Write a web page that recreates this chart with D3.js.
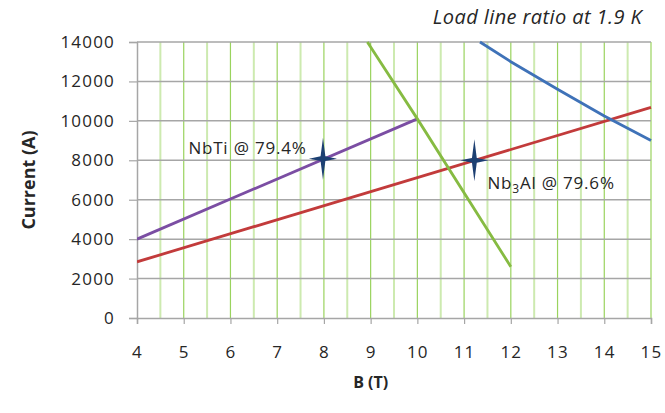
<!DOCTYPE html>
<html>
<head>
<meta charset="utf-8">
<script src="https://cdn.jsdelivr.net/npm/d3@7"></script>
<style>
  html, body { margin: 0; padding: 0; background: #fff; }
  svg { display: block; }
  text { font-family: "Open Sans", "Noto Sans", sans-serif; fill: #262626; }
</style>
</head>
<body>
<svg id="chart" width="665" height="413"></svg>
<script>
// Magnetic field (T) and current (A) for load lines and critical-current curves
const xTicks = [4, 5, 6, 7, 8, 9, 10, 11, 12, 13, 14, 15];
const yTicks = [0, 2000, 4000, 6000, 8000, 10000, 12000, 14000];

const nbtiLoadB = [4, 10];
const nbtiLoadI = [4000, 10100];

const nb3alLoadB = [4, 15];
const nb3alLoadI = [2850, 10680];

const nbtiCritB = [8.93, 10, 12];
const nbtiCritI = [14000, 10100, 2600];

const nb3alCritB = [11.34, 12, 13, 14, 15];
const nb3alCritI = [14000, 13000, 11600, 10250, 9000];

const markerB = [7.98, 11.22];
const markerI = [8080, 8000];

const labelText = ["NbTi @ 79.4%", "Nb3Al @ 79.6%"];

const svg = d3.select("#chart");
const x = d3.scaleLinear().domain([4, 15]).range([137, 651]);
const y = d3.scaleLinear().domain([0, 14000]).range([318, 42]);

// vertical gridlines every half tesla
const halfSteps = d3.range(4.5, 15.01, 0.5);
svg.append("g").selectAll("line").data(halfSteps).join("line")
  .attr("x1", d => x(d)).attr("x2", d => x(d))
  .attr("y1", y(14000)).attr("y2", y(0))
  .attr("stroke", d => Number.isInteger(d) ? "#9ad35e" : "#cdeab0")
  .attr("stroke-width", d => Number.isInteger(d) ? 1.2 : 2);

// horizontal gridlines
svg.append("g").selectAll("line").data(yTicks.filter(v => v > 0)).join("line")
  .attr("x1", x(4)).attr("x2", x(15))
  .attr("y1", d => y(d)).attr("y2", d => y(d))
  .attr("stroke", "#a6a6a6").attr("stroke-width", 1.5);

// axes
const xAxis = svg.append("g").attr("transform", `translate(0,${y(0)})`)
  .call(d3.axisBottom(x).tickValues(xTicks).tickSize(6).tickPadding(22).tickFormat(d3.format("d")));
const yAxis = svg.append("g").attr("transform", `translate(${x(4)},0)`)
  .call(d3.axisLeft(y).tickValues(yTicks).tickSize(8).tickPadding(15).tickFormat(d3.format("d")));
[xAxis, yAxis].forEach(g => {
  g.select(".domain").attr("stroke", "#a6a6a6").attr("stroke-width", 1.5);
  g.selectAll(".tick line").attr("stroke", "#a6a6a6").attr("stroke-width", 1.2);
  g.selectAll(".tick text").attr("font-family", "'Open Sans', sans-serif")
    .attr("font-size", 17).attr("letter-spacing", 1.2).attr("fill", "#262626");
});
// keep the right-aligned y labels flush despite the trailing letter spacing
yAxis.selectAll(".tick text").attr("dx", 1);

// series lines
svg.append("clipPath").attr("id", "plot")
  .append("rect").attr("x", x(4)).attr("y", y(14000) - 2)
  .attr("width", x(15) - x(4) + 2).attr("height", y(0) - y(14000) + 2);

const line = d3.line().x(d => x(d[0])).y(d => y(d[1]));
const series = [
  { B: nbtiLoadB, I: nbtiLoadI, color: "#7b4ea3" },
  { B: nb3alLoadB, I: nb3alLoadI, color: "#c23b3b" },
  { B: nbtiCritB, I: nbtiCritI, color: "#86bb42" },
  { B: nb3alCritB, I: nb3alCritI, color: "#3f72b8" }
];
svg.append("g").attr("clip-path", "url(#plot)")
  .selectAll("path").data(series).join("path")
  .attr("d", s => line(d3.zip(s.B, s.I)))
  .attr("fill", "none").attr("stroke", s => s.color)
  .attr("stroke-width", 2.8).attr("stroke-linejoin", "round");

// four-pointed star markers at the operating points
const star4 = {
  draw(ctx, size) {
    const v = 21, h = 14, w = 2.4;
    ctx.moveTo(0, -v);
    ctx.lineTo(w, -w);
    ctx.lineTo(h, 0);
    ctx.lineTo(w, w);
    ctx.lineTo(0, v);
    ctx.lineTo(-w, w);
    ctx.lineTo(-h, 0);
    ctx.lineTo(-w, -w);
    ctx.closePath();
  }
};
const defs = svg.append("defs");
defs.append("filter").attr("id", "soft").append("feGaussianBlur").attr("stdDeviation", 0.7);
svg.append("g").selectAll("path").data(d3.zip(markerB, markerI)).join("path")
  .attr("d", d3.symbol().type(star4))
  .attr("transform", d => `translate(${x(d[0])},${y(d[1])})`)
  .attr("fill", "#1f3f72").attr("filter", "url(#soft)");

// point labels
svg.append("text").attr("x", x(5.1)).attr("y", y(8000) - 6)
  .attr("font-size", 17).attr("letter-spacing", 0.8).attr("fill", "#404040")
  .text(labelText[0]);
const lab2 = svg.append("text").attr("x", x(11.5)).attr("y", y(8000) + 29)
  .attr("font-size", 17).attr("letter-spacing", 0.8).attr("fill", "#404040");
lab2.append("tspan").text("Nb");
lab2.append("tspan").attr("font-size", 12).attr("dy", 4).text("3");
lab2.append("tspan").attr("dy", -4).text("Al @ 79.6%");

// titles
svg.append("text").attr("x", 642).attr("y", 24).attr("text-anchor", "end")
  .attr("font-size", 20).attr("letter-spacing", 0.4).attr("font-style", "italic").attr("fill", "#262626")
  .text("Load line ratio at 1.9 K");
svg.append("text").attr("x", x(9)).attr("y", 388).attr("text-anchor", "middle")
  .attr("font-size", 16).attr("font-weight", "bold").text("B (T)");
svg.append("text").attr("transform", `translate(35,${(y(0) + y(14000)) / 2}) rotate(-90)`)
  .attr("text-anchor", "middle").attr("font-size", 18).attr("font-weight", "bold")
  .text("Current (A)");
</script>
</body>
</html>
